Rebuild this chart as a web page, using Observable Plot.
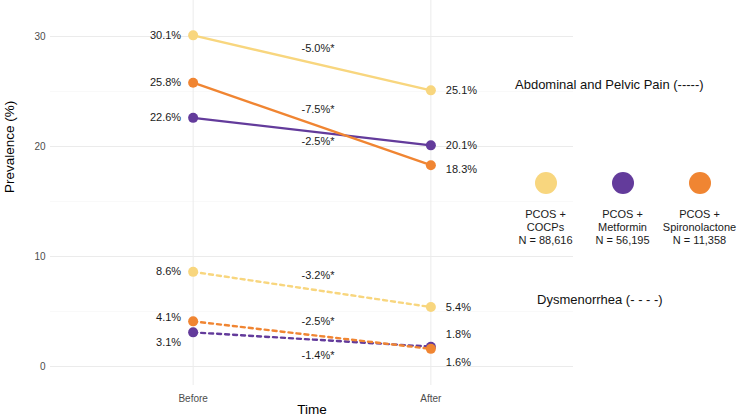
<!DOCTYPE html>
<html><head><meta charset="utf-8">
<script src="https://cdn.jsdelivr.net/npm/d3@7"></script>
<script src="https://cdn.jsdelivr.net/npm/@observablehq/plot@0.6"></script>
<style>
body{margin:0;background:#fff;font-family:"Liberation Sans",Arial,sans-serif;}
#wrap{position:relative;width:738px;height:419px;}
.ann{position:absolute;font-size:13px;color:#111;white-space:nowrap;line-height:16px;}
.leg{position:absolute;top:172px;left:507px;display:flex;}
.item{width:77px;text-align:center;font-size:11px;line-height:13px;color:#1a1a1a;white-space:nowrap;}
.sw{width:22px;height:22px;border-radius:50%;margin:0 auto 14px;}
</style></head>
<body><div id="wrap"></div>
<script>
const groups = ["PCOS + COCPs", "PCOS + Metformin", "PCOS + Spironolactone"];
const groupLines = [["PCOS +", "COCPs"], ["PCOS +", "Metformin"], ["PCOS +", "Spironolactone"]];
const groupN = ["88,616", "56,195", "11,358"];
const groupColors = ["#F8D67E", "#633B9B", "#F08532"];
const times = ["Before", "After"];
const abdBefore = [30.1, 22.6, 25.8];
const abdAfter = [25.1, 20.1, 18.3];
const abdChange = ["-5.0%*", "-2.5%*", "-7.5%*"];
const dysBefore = [8.6, 3.1, 4.1];
const dysAfter = [5.4, 1.8, 1.6];
const dysChange = ["-3.2%*", "-1.4%*", "-2.5%*"];
const yTicks = [0, 10, 20, 30];
const yMinor = [5, 15, 25];
const conditions = ["Abdominal and Pelvic Pain", "Dysmenorrhea"];
const conditionKeys = ["(-----)", "(- - - -)"];

const rows = [];
const changes = [];
[[abdBefore, abdAfter, abdChange], [dysBefore, dysAfter, dysChange]].forEach(([b, a, c], ci) => {
  groups.forEach((g, gi) => {
    rows.push({cond: ci, group: g, gi, time: 1, value: b[gi]});
    rows.push({cond: ci, group: g, gi, time: 2, value: a[gi]});
    changes.push({cond: ci, group: g, gi, time: 1.5, value: (b[gi] + a[gi]) / 2, text: c[gi]});
  });
});
const fmt = v => v.toFixed(1) + "%";
// small label nudges (repel) for overlapping labels
const labelDy = d => {
  if (d.cond === 1 && d.gi === 1 && d.time === 1) return 10;
  if (d.cond === 1 && d.gi === 1 && d.time === 2) return -12;
  if (d.cond === 1 && d.gi === 2 && d.time === 2) return 14;
  if (d.cond === 1 && d.gi === 2 && d.time === 1) return -4;
  if (d.cond === 0 && d.gi === 2 && d.time === 2) return 4;
  return 0;
};
const changeDy = d => d.gi === 1 ? (d.cond === 0 ? 10 : 16) : -14;

// Plot's dx/dy are constants: split a text mark into one per offset value
function textsByDy(data, dyFn, opts) {
  const byDy = d3.group(data, dyFn);
  return [...byDy].map(([dy, sub]) => Plot.text(sub, {...opts, dy}));
}

const chart = Plot.plot({
  width: 738, height: 419,
  marginLeft: 50, marginRight: 165, marginTop: 0, marginBottom: 34,
  style: {fontFamily: "Liberation Sans, Arial, sans-serif", background: "#fff"},
  x: {type: "linear", domain: [0.4, 2.6], axis: null},
  y: {domain: [-1.73, 33.27], axis: null},
  color: {domain: groups, range: groupColors},
  marks: [
    Plot.ruleY(yMinor, {stroke: "#f3f3f3", strokeWidth: 0.6}),
    Plot.ruleY(yTicks, {stroke: "#ebebeb", strokeWidth: 1}),
    Plot.ruleX([1, 2], {stroke: "#ebebeb", strokeWidth: 1}),
    Plot.axisY({ticks: yTicks, tickSize: 0, tickPadding: 5, fontSize: 10, color: "#4d4d4d", label: null}),
    Plot.axisX({ticks: [1, 2], tickFormat: i => times[i - 1], tickSize: 0, tickPadding: 9, fontSize: 10, color: "#4d4d4d", label: null}),
    Plot.text(["Prevalence (%)"], {frameAnchor: "left", rotate: -90, dx: -41, fontSize: 13.5, fill: "#000"}),
    Plot.text(["Time"], {frameAnchor: "bottom", dy: 28, fontSize: 13.5, fill: "#000"}),
    Plot.line(rows.filter(d => d.cond === 0), {x: "time", y: "value", z: "group", stroke: "group", strokeWidth: 2.4}),
    Plot.line(rows.filter(d => d.cond === 1), {x: "time", y: "value", z: "group", stroke: "group", strokeWidth: 2.4, strokeDasharray: "4,4"}),
    Plot.dot(rows, {x: "time", y: "value", fill: "group", r: 5}),
    ...textsByDy(rows.filter(d => d.time === 1), labelDy, {x: "time", y: "value", text: d => fmt(d.value), textAnchor: "end", dx: -12, fontSize: 11, fill: "#1a1a1a"}),
    ...textsByDy(rows.filter(d => d.time === 2), labelDy, {x: "time", y: "value", text: d => fmt(d.value), textAnchor: "start", dx: 15, fontSize: 11, fill: "#1a1a1a"}),
    ...textsByDy(changes, changeDy, {x: "time", y: "value", text: "text", dx: 6, fontSize: 11, fill: "#1a1a1a"})
  ]
});
const wrap = document.getElementById("wrap");
wrap.appendChild(chart);

// condition annotations
const annPos = [{left: 515, top: 77}, {left: 537, top: 292}];
conditions.forEach((c, i) => {
  const d = document.createElement("div");
  d.className = "ann";
  d.style.left = annPos[i].left + "px";
  d.style.top = annPos[i].top + "px";
  d.textContent = c + " " + conditionKeys[i];
  wrap.appendChild(d);
});
// legend
const leg = document.createElement("div");
leg.className = "leg";
groups.forEach((g, i) => {
  const it = document.createElement("div");
  it.className = "item";
  const sw = document.createElement("div");
  sw.className = "sw";
  sw.style.background = groupColors[i];
  it.appendChild(sw);
  [...groupLines[i], "N = " + groupN[i]].forEach(t => {
    const l = document.createElement("div");
    l.textContent = t;
    it.appendChild(l);
  });
  leg.appendChild(it);
});
wrap.appendChild(leg);
</script></body></html>
